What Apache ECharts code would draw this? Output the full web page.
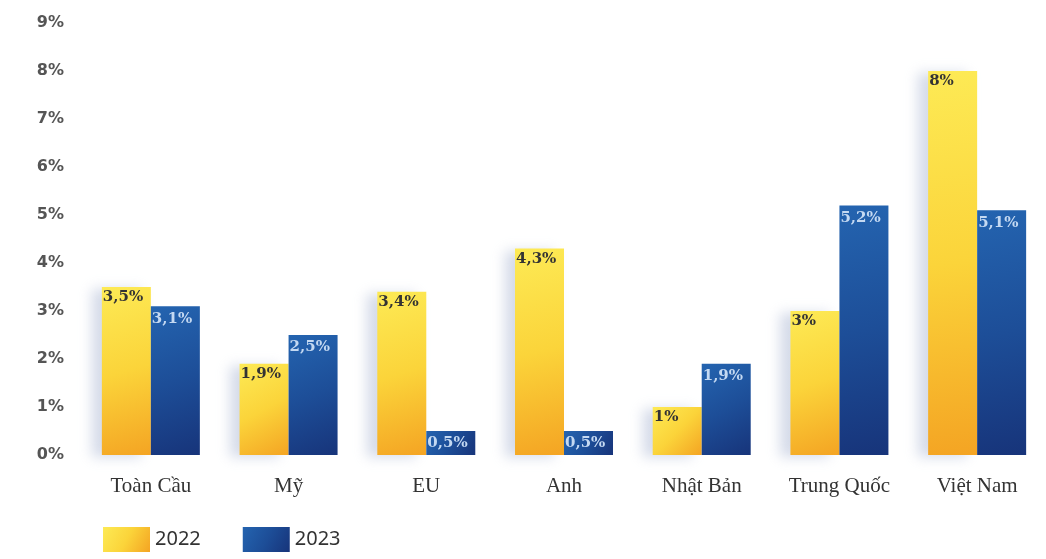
<!DOCTYPE html>
<html><head><meta charset="utf-8">
<script src="https://cdn.jsdelivr.net/npm/echarts@6/dist/echarts.min.js"></script>
<style>html,body{margin:0;padding:0;background:#fff}#c{width:1046px;height:559px}</style>
</head><body><div id="c"></div>
<script>
const categories = ['Toàn Cầu','Mỹ','EU','Anh','Nhật Bản','Trung Quốc','Việt Nam'];
const values2022 = [3.5, 1.9, 3.4, 4.3, 1, 3, 8];
const values2023 = [3.1, 2.5, 0.5, 0.5, 1.9, 5.2, 5.1];
const seriesNames = ['2022','2023'];

const fmt = v => String(v).replace('.', ',') + '%';
const chart = echarts.init(document.getElementById('c'));
const yellow = new echarts.graphic.LinearGradient(0,0,1,1,[{offset:0,color:'#fdea55'},{offset:0.5,color:'#fbd43a'},{offset:1,color:'#f4a423'}]);
const blue = new echarts.graphic.LinearGradient(0,0,1,1,[{offset:0,color:'#2464b0'},{offset:0.5,color:'#1d4e98'},{offset:1,color:'#17347a'}]);
chart.setOption({
  animation:false,
  grid:{left:82, top:23, width:968, bottom:104, containLabel:false},
  legend:{left:98, bottom:2, itemWidth:47, itemHeight:25, itemGap:42, icon:'rect',
    textStyle:{fontFamily:'Noto Sans', fontSize:20, color:'#333'},
    data:seriesNames},
  xAxis:{type:'category', data:categories,
    axisLine:{show:false}, axisTick:{show:false},
    axisLabel:{interval:0, fontFamily:'Liberation Serif', fontSize:21, color:'#333', margin:21}},
  yAxis:{type:'value', min:0, max:9, interval:1,
    splitLine:{show:false}, axisLine:{show:false}, axisTick:{show:false},
    axisLabel:{formatter:v=>v+'%', fontFamily:'DejaVu Sans', fontWeight:'bold', fontSize:16, color:'#555', margin:18, align:'right'}},
  series:[
    {name:seriesNames[0], type:'bar', data:values2022, barWidth:49, barGap:'0%',
     itemStyle:{color:yellow, shadowColor:'rgba(150,165,200,0.4)', shadowBlur:12, shadowOffsetX:-10, shadowOffsetY:2},
     label:{show:true, position:'insideTopLeft', offset:[-4,-2], formatter:p=>fmt(p.value), fontFamily:'DejaVu Serif', fontWeight:'bold', fontSize:15, color:'#333'}},
    {name:seriesNames[1], type:'bar', data:values2023, barWidth:49,
     itemStyle:{color:blue},
     label:{show:true, position:'insideTopLeft', offset:[-4,0], formatter:p=>fmt(p.value), fontFamily:'DejaVu Serif', fontWeight:'bold', fontSize:15, color:'#c4d9f2'}}
  ]
});
</script></body></html>
